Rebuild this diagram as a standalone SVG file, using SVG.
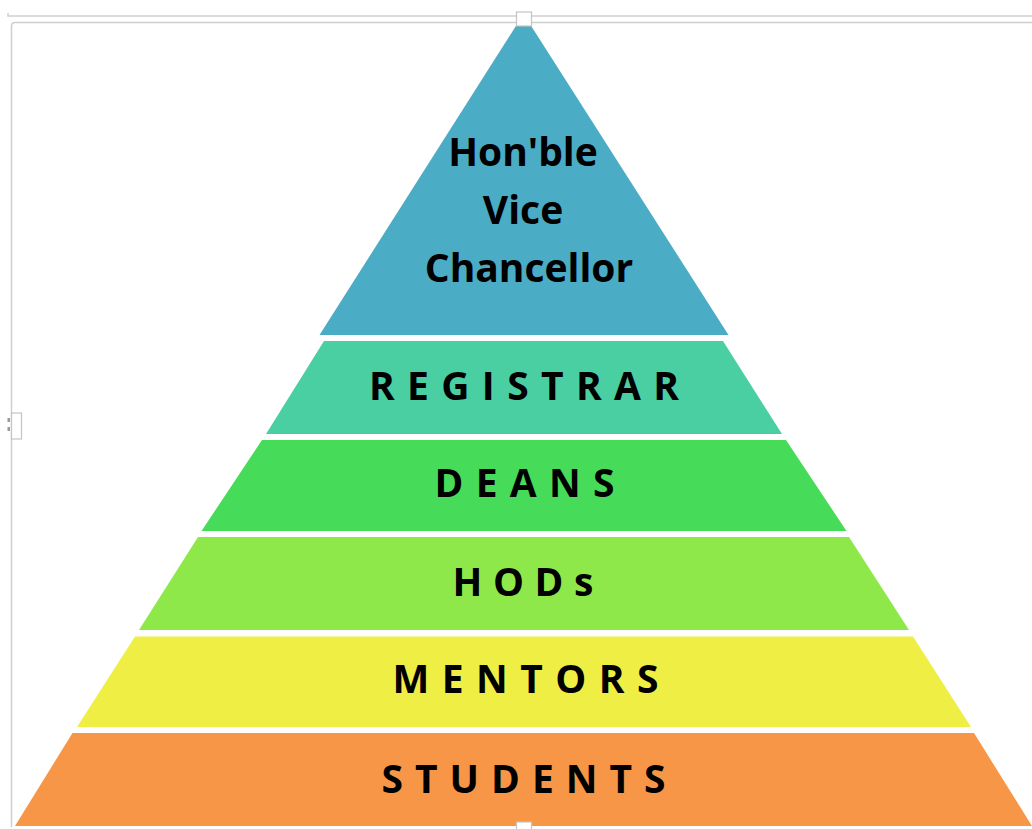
<svg xmlns="http://www.w3.org/2000/svg" width="1032" height="829" viewBox="0 0 1032 829">
  <style>
    .lbl { font-family: "Open Sans", "Liberation Sans", sans-serif; font-weight: 700; fill: #000; text-anchor: middle; }
    .band { font-size: 39px; }
    .top { font-size: 39px; }
    .frame { stroke: #cfcfcf; stroke-width: 1.5; fill: none; }
    .handle { fill: #fff; stroke: #c4c4c4; stroke-width: 1.2; }
  </style>
  <rect width="1032" height="829" fill="#fff"/>
  <g id="frame">
    <path class="frame" d="M8 13 L8 16 L1032 16" stroke="#c2c2c2"/>
    <path class="frame" d="M11.5 827 L11.5 26 Q11.5 22.5 15 22.5 L1032 22.5" stroke="#dadada"/>
  </g>
  <g id="vice-chancellor">
    <polygon points="523.5,14 728.5,335 319.5,335" fill="#4BACC6"/>
    <text class="lbl top" x="523" y="166">Hon'ble</text>
    <text class="lbl top" x="523" y="224">Vice</text>
    <text class="lbl top" x="529" y="282">Chancellor</text>
  </g>
  <g id="registrar">
    <polygon points="324,341 723,341 782,434 266,434" fill="#4ACFA3"/>
    <text class="lbl band" x="524" y="400" textLength="310" lengthAdjust="spacing">REGISTRAR</text>
  </g>
  <g id="deans">
    <polygon points="262,440 786,440 846.5,531 201.5,531" fill="#47DB5A"/>
    <text class="lbl band" x="524.5" y="497" textLength="180" lengthAdjust="spacing">DEANS</text>
  </g>
  <g id="hods">
    <polygon points="198,537 849,537 909,630 139,630" fill="#8FE84A"/>
    <text class="lbl band" x="523" y="596" textLength="141" lengthAdjust="spacing">HODs</text>
  </g>
  <g id="mentors">
    <polygon points="135,636.5 913,636.5 971,727 77,727" fill="#EEEE45"/>
    <text class="lbl band" x="525.5" y="693" textLength="266" lengthAdjust="spacing">MENTORS</text>
  </g>
  <g id="students">
    <polygon points="72.5,733 974,733 1032,826 15,826" fill="#F79646"/>
    <text class="lbl band" x="523.5" y="793" textLength="284" lengthAdjust="spacing">STUDENTS</text>
  </g>
  <g id="handles">
    <rect class="handle" x="516.5" y="12" width="15" height="14"/>
    <rect class="handle" x="11.5" y="413" width="10" height="26"/>
    <rect x="7.5" y="418" width="2.5" height="4" fill="#9a9a9a"/>
    <rect x="7.5" y="427" width="2.5" height="4" fill="#9a9a9a"/>
    <rect class="handle" x="516.5" y="822" width="15" height="8"/>
  </g>
</svg>
